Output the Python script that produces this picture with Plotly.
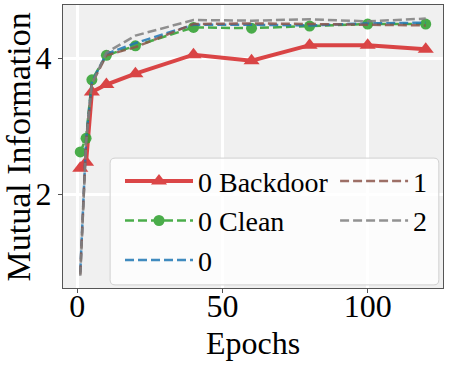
import plotly.graph_objects as go

epochs = [1, 3, 5, 10, 20, 40, 60, 80, 100, 120]
backdoor_0 = [2.38, 2.47, 3.50, 3.61, 3.77, 4.05, 3.96, 4.19, 4.19, 4.13]
clean_0 = [2.62, 2.82, 3.68, 4.04, 4.18, 4.45, 4.44, 4.47, 4.50, 4.50]
mi_0 = [0.85, 2.80, 3.65, 4.06, 4.22, 4.49, 4.49, 4.48, 4.51, 4.52]
mi_1 = [0.82, 2.78, 3.62, 4.04, 4.16, 4.50, 4.51, 4.50, 4.48, 4.48]
mi_2 = [0.80, 2.75, 3.62, 4.08, 4.33, 4.56, 4.55, 4.57, 4.54, 4.58]

FONT = "Liberation Serif"
dash = "9px,4px"

fig = go.Figure()
fig.add_trace(go.Scatter(x=epochs, y=backdoor_0, name="0 Backdoor", mode="lines+markers",
                         line=dict(color="#d62728", width=4),
                         marker=dict(symbol="triangle-up", size=14, color="#d62728"),
                         opacity=0.85, legend="legend"))
fig.add_trace(go.Scatter(x=epochs, y=clean_0, name="0 Clean", mode="lines+markers",
                         line=dict(color="#2ca02c", width=2.5, dash=dash),
                         marker=dict(symbol="circle", size=11, color="#2ca02c"),
                         opacity=0.85, legend="legend"))
fig.add_trace(go.Scatter(x=epochs, y=mi_0, name="0", mode="lines",
                         line=dict(color="#1f77b4", width=2.5, dash=dash),
                         opacity=0.85, legend="legend"))
fig.add_trace(go.Scatter(x=epochs, y=mi_1, name="1", mode="lines",
                         line=dict(color="#8c564b", width=2.5, dash=dash),
                         opacity=0.85, legend="legend2"))
fig.add_trace(go.Scatter(x=epochs, y=mi_2, name="2", mode="lines",
                         line=dict(color="#7f7f7f", width=2.5, dash=dash),
                         opacity=0.85, legend="legend2"))

axis_common = dict(showline=True, mirror=True, linecolor="#555555", linewidth=1,
                   ticks="outside", ticklen=4, tickcolor="#555555",
                   gridcolor="white", gridwidth=2.5, zeroline=False, automargin=False,
                   tickfont=dict(family=FONT, size=32, color="black"))

leg_common = dict(bgcolor="rgba(0,0,0,0)", borderwidth=0, itemwidth=68,
                  font=dict(family=FONT, size=28, color="black"),
                  xanchor="left", yanchor="top", orientation="v")

# legend frame with rounded corners (paper coords)
x0, x1, y0, y1 = 0.124, 0.989, 0.011, 0.459
rx, ry = 0.013, 0.018
box = (f"M {x0+rx},{y0} L {x1-rx},{y0} Q {x1},{y0} {x1},{y0+ry} L {x1},{y1-ry} "
       f"Q {x1},{y1} {x1-rx},{y1} L {x0+rx},{y1} Q {x0},{y1} {x0},{y1-ry} "
       f"L {x0},{y0+ry} Q {x0},{y0} {x0+rx},{y0} Z")

fig.update_layout(
    width=449, height=366,
    margin=dict(l=63, r=6, t=5, b=78),
    paper_bgcolor="white",
    plot_bgcolor="#f0f0f0",
    font=dict(family=FONT, color="black"),
    xaxis=dict(range=[-4.95, 125.95], tickvals=[0, 50, 100], ticklabelstandoff=-14, **axis_common),
    yaxis=dict(range=[0.62, 4.78], tickvals=[2, 4], **axis_common),
    legend=dict(x=0.15, y=0.465, **leg_common),
    legend2=dict(x=0.716, y=0.465, **leg_common),
    showlegend=True,
    shapes=[dict(type="path", path=box, xref="paper", yref="paper",
                 fillcolor="rgba(255,255,255,0.8)", line=dict(color="#d0d0d0", width=1), layer="above")],
    annotations=[
        dict(text="Epochs", xref="paper", yref="paper", x=0.5, y=-0.194, xanchor="center",
             yanchor="middle", showarrow=False, font=dict(family=FONT, size=32)),
        dict(text="Mutual Information", xref="paper", yref="paper", x=-0.116, y=0.5, textangle=-90,
             xanchor="center", yanchor="middle", showarrow=False, font=dict(family=FONT, size=34)),
    ],
)

fig.write_html("out.html", config={"displayModeBar": False},
               post_script="document.body.style.margin='0';")
